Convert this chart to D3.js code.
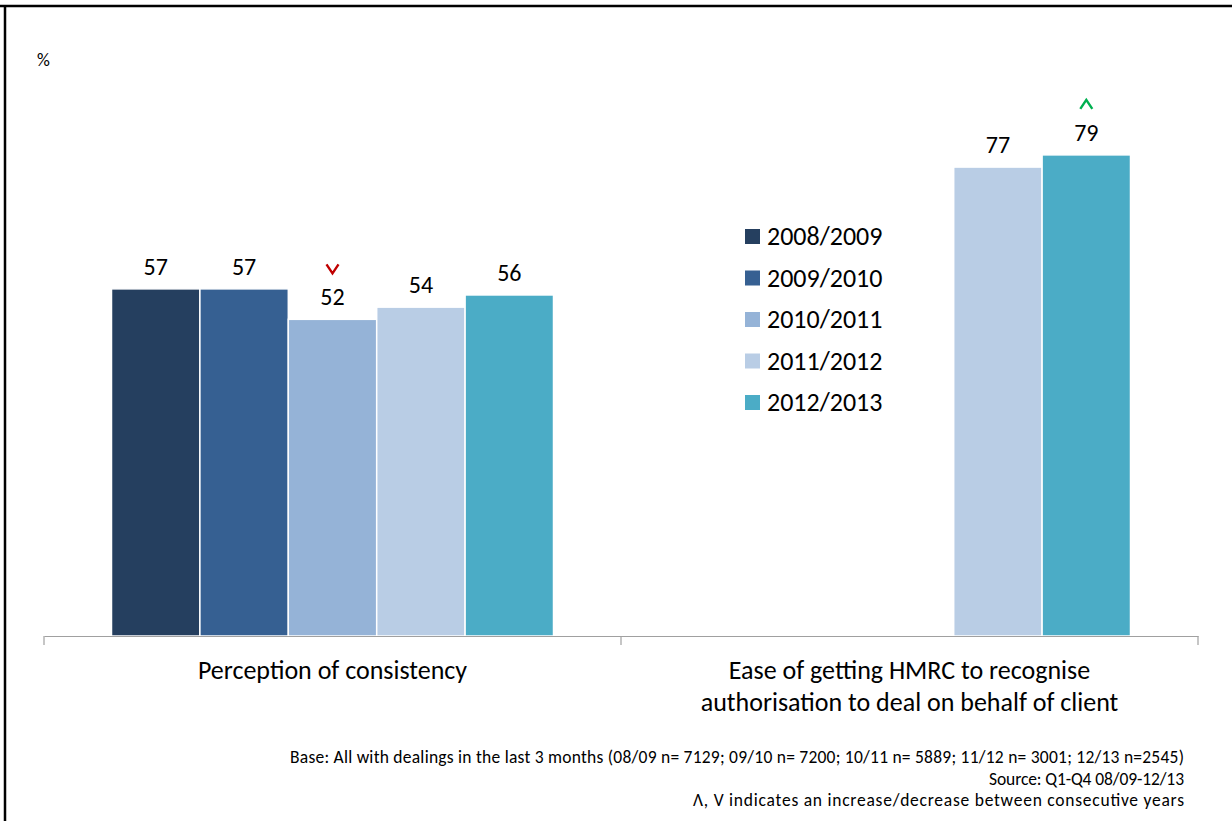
<!DOCTYPE html>
<html>
<head>
<meta charset="utf-8">
<script src="https://cdn.jsdelivr.net/npm/d3@7"></script>
<style>
  html, body { margin: 0; padding: 0; background: #fff; }
  svg { display: block; }
  text { font-family: Carlito, "Open Sans", "Liberation Sans", sans-serif; fill: #000; }
</style>
</head>
<body>
<svg id="chart" width="1232" height="821"></svg>
<script>
// Survey measures and years
const categories = [
  ["Perception of consistency"],
  ["Ease of getting HMRC to recognise", "authorisation to deal on behalf of client"]
];
const years = ["2008/2009", "2009/2010", "2010/2011", "2011/2012", "2012/2013"];
const colors = ["#253F5F", "#366092", "#95B3D7", "#B9CDE5", "#4BACC6"];

// Percentages per year for each measure (null = not asked that year)
const consistency = [57, 57, 52, 54, 56];
const authorisation = [null, null, null, 77, 79];
// Significance markers: "up" / "down" vs previous year
const consistencyFlags = [null, null, "down", null, null];
const authorisationFlags = [null, null, null, null, "up"];

const footnotes = [
  "Base: All with dealings in the last 3 months (08/09 n= 7129;  09/10 n= 7200;  10/11 n= 5889;  11/12 n= 3001;  12/13 n=2545)",
  "Source: Q1-Q4 08/09-12/13",
  "\u039B, V indicates an increase/decrease between consecutive years"
];
const footnoteStarts = [290, 989, 693];

const seriesByCat = [consistency, authorisation];
const flagsByCat = [consistencyFlags, authorisationFlags];

const svg = d3.select("#chart");

// Frame lines
svg.append("line").attr("x1", 0).attr("x2", 1232).attr("y1", 6).attr("y2", 6)
  .attr("stroke", "#000").attr("stroke-width", 2.5);
svg.append("line").attr("x1", 5).attr("x2", 5).attr("y1", 6).attr("y2", 821)
  .attr("stroke", "#000").attr("stroke-width", 2.5);

const x0 = d3.scaleBand().domain(d3.range(categories.length)).range([44, 1198]).paddingInner(0).paddingOuter(0);
const groupWidth = 442;
const x1 = d3.scaleBand().domain(years).range([0, groupWidth]).padding(0);
const y = d3.scaleLinear().domain([0, 100]).range([636, 27]);

svg.append("text").attr("x", 37).attr("y", 66).attr("font-size", 18).text("%");

// Bars
categories.forEach((cat, ci) => {
  const gx = x0(ci) + x0.bandwidth() / 2 - groupWidth / 2;
  const g = svg.append("g").attr("transform", `translate(${gx},0)`);
  const vals = seriesByCat[ci];
  years.forEach((yr, i) => {
    const v = vals[i];
    if (v == null) return;
    g.append("rect")
      .attr("x", x1(yr)).attr("width", x1.bandwidth())
      .attr("y", y(v)).attr("height", y(0) - y(v))
      .attr("fill", colors[i]).attr("stroke", "#fff").attr("stroke-width", 1.5);
    const cx = x1(yr) + x1.bandwidth() / 2;
    g.append("text").attr("x", cx).attr("y", y(v) - 14)
      .attr("text-anchor", "middle").attr("font-size", 24).text(v);
    const f = flagsByCat[ci][i];
    if (f) {
      const ay = y(v) - 53;
      const path = f === "up"
        ? `M${cx - 6},${ay + 7} L${cx},${ay - 2} L${cx + 6},${ay + 7}`
        : `M${cx - 6},${ay - 2} L${cx},${ay + 7} L${cx + 6},${ay - 2}`;
      g.append("path").attr("d", path).attr("fill", "none")
        .attr("stroke", f === "up" ? "#00B050" : "#C00000").attr("stroke-width", 2.4);
    }
  });
});

// Category axis
const axis = d3.axisBottom(x0).tickValues([]).tickSizeOuter(0);
const axG = svg.append("g").attr("transform", "translate(0,636)").call(axis);
axG.select(".domain").attr("stroke", "#A0A0A0").attr("stroke-width", 1.2);
d3.range(categories.length + 1).forEach(i => {
  const xx = i < categories.length ? x0(i) : x0(categories.length - 1) + x0.bandwidth();
  axG.append("line").attr("x1", xx).attr("x2", xx).attr("y1", 0).attr("y2", 9)
    .attr("stroke", "#A0A0A0").attr("stroke-width", 1.2);
});
categories.forEach((lines, ci) => {
  const t = svg.append("text").attr("text-anchor", "middle").attr("font-size", 26);
  lines.forEach((ln, li) => {
    t.append("tspan").attr("x", x0(ci) + x0.bandwidth() / 2).attr("y", 679 + li * 32).text(ln);
  });
});

// Legend
const legend = svg.append("g").attr("transform", "translate(745,236)");
years.forEach((yr, i) => {
  const row = legend.append("g").attr("transform", `translate(0,${i * 41.5})`);
  row.append("rect").attr("x", 0).attr("y", -7).attr("width", 15).attr("height", 15).attr("fill", colors[i]);
  row.append("text").attr("x", 22).attr("y", 9).attr("font-size", 26).text(yr);
});

// Footnotes, right-aligned block
footnotes.forEach((t, i) => {
  svg.append("text").attr("x", footnoteStarts[i]).attr("y", 763 + i * 21.5)
    .attr("font-size", 17.5)
    .attr("textLength", 1184 - footnoteStarts[i]).attr("lengthAdjust", "spacing")
    .text(t);
});
</script>
</body>
</html>
